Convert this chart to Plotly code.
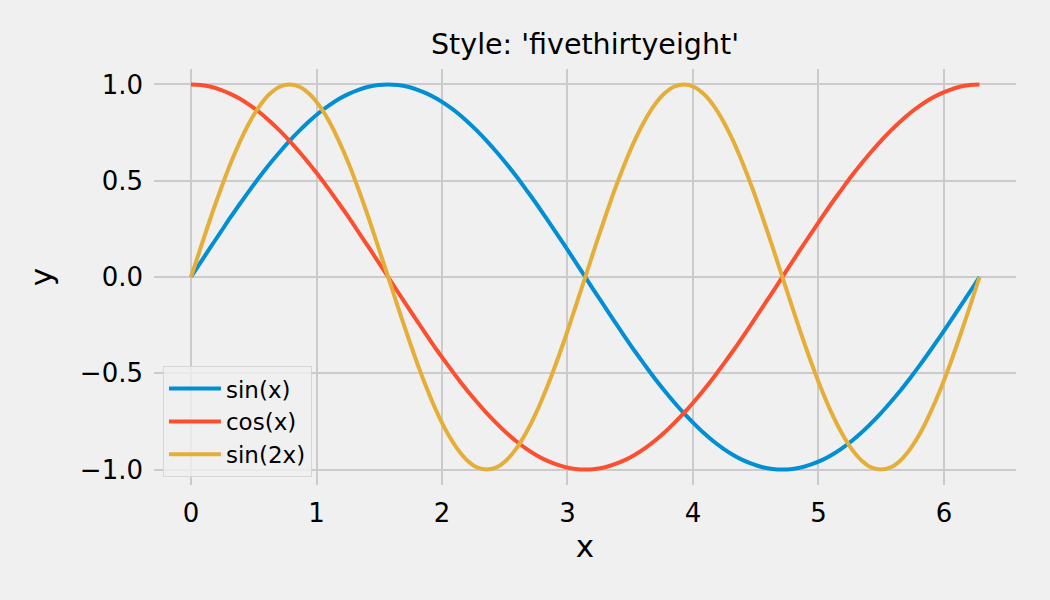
import plotly.graph_objects as go

x = [0, 0.079, 0.157, 0.236, 0.314, 0.393, 0.471, 0.550, 0.628, 0.707,
     0.785, 0.864, 0.942, 1.021, 1.100, 1.178, 1.257, 1.335, 1.414, 1.492,
     1.571, 1.649, 1.728, 1.806, 1.885, 1.963, 2.042, 2.121, 2.199, 2.278,
     2.356, 2.435, 2.513, 2.592, 2.670, 2.749, 2.827, 2.906, 2.985, 3.063,
     3.142, 3.220, 3.299, 3.377, 3.456, 3.534, 3.613, 3.691, 3.770, 3.848,
     3.927, 4.006, 4.084, 4.163, 4.241, 4.320, 4.398, 4.477, 4.555, 4.634,
     4.712, 4.791, 4.869, 4.948, 5.027, 5.105, 5.184, 5.262, 5.341, 5.419,
     5.498, 5.576, 5.655, 5.733, 5.812, 5.890, 5.969, 6.048, 6.126, 6.205,
     6.283]

sin_x = [0, 0.079, 0.156, 0.233, 0.309, 0.383, 0.454, 0.523, 0.588, 0.649,
         0.707, 0.760, 0.809, 0.853, 0.891, 0.924, 0.951, 0.972, 0.988, 0.997,
         1.0, 0.997, 0.988, 0.972, 0.951, 0.924, 0.891, 0.853, 0.809, 0.760,
         0.707, 0.649, 0.588, 0.523, 0.454, 0.383, 0.309, 0.233, 0.156, 0.079,
         0, -0.079, -0.156, -0.233, -0.309, -0.383, -0.454, -0.523, -0.588, -0.649,
         -0.707, -0.760, -0.809, -0.853, -0.891, -0.924, -0.951, -0.972, -0.988, -0.997,
         -1.0, -0.997, -0.988, -0.972, -0.951, -0.924, -0.891, -0.853, -0.809, -0.760,
         -0.707, -0.649, -0.588, -0.523, -0.454, -0.383, -0.309, -0.233, -0.156, -0.079,
         0]

cos_x = [1.0, 0.997, 0.988, 0.972, 0.951, 0.924, 0.891, 0.853, 0.809, 0.760,
         0.707, 0.649, 0.588, 0.523, 0.454, 0.383, 0.309, 0.233, 0.156, 0.079,
         0, -0.079, -0.156, -0.233, -0.309, -0.383, -0.454, -0.523, -0.588, -0.649,
         -0.707, -0.760, -0.809, -0.853, -0.891, -0.924, -0.951, -0.972, -0.988, -0.997,
         -1.0, -0.997, -0.988, -0.972, -0.951, -0.924, -0.891, -0.853, -0.809, -0.760,
         -0.707, -0.649, -0.588, -0.523, -0.454, -0.383, -0.309, -0.233, -0.156, -0.079,
         0, 0.079, 0.156, 0.233, 0.309, 0.383, 0.454, 0.523, 0.588, 0.649,
         0.707, 0.760, 0.809, 0.853, 0.891, 0.924, 0.951, 0.972, 0.988, 0.997,
         1.0]

sin_2x = [0, 0.156, 0.309, 0.454, 0.588, 0.707, 0.809, 0.891, 0.951, 0.988,
          1.0, 0.988, 0.951, 0.891, 0.809, 0.707, 0.588, 0.454, 0.309, 0.156,
          0, -0.156, -0.309, -0.454, -0.588, -0.707, -0.809, -0.891, -0.951, -0.988,
          -1.0, -0.988, -0.951, -0.891, -0.809, -0.707, -0.588, -0.454, -0.309, -0.156,
          0, 0.156, 0.309, 0.454, 0.588, 0.707, 0.809, 0.891, 0.951, 0.988,
          1.0, 0.988, 0.951, 0.891, 0.809, 0.707, 0.588, 0.454, 0.309, 0.156,
          0, -0.156, -0.309, -0.454, -0.588, -0.707, -0.809, -0.891, -0.951, -0.988,
          -1.0, -0.988, -0.951, -0.891, -0.809, -0.707, -0.588, -0.454, -0.309, -0.156,
          0]

series = [("sin(x)", sin_x, "#008fd5"),
          ("cos(x)", cos_x, "#fc4f30"),
          ("sin(2x)", sin_2x, "#e5ae38")]

font = "DejaVu Sans"
bg = "#f0f0f0"
grid = "#cbcbcb"

fig = go.Figure()
for name, ys, color in series:
    fig.add_trace(go.Scatter(x=x, y=ys, mode="lines", name=name,
                             line=dict(color=color, width=4, shape="spline")))

fig.update_layout(
    width=1050, height=600,
    paper_bgcolor=bg, plot_bgcolor=bg,
    font=dict(family=font, color="black", size=26),
    margin=dict(l=154, r=34, t=69, b=115),
    title=dict(text="Style: 'fivethirtyeight'", x=0.5, xref="paper", xanchor="center",
               y=1 - 44 / 600, yanchor="middle", font=dict(size=28.5)),
    legend=dict(x=0.0104, y=0.019, xanchor="left", yanchor="bottom",
                bgcolor="rgba(240,240,240,0.8)", bordercolor="#d6d6d6", borderwidth=1,
                font=dict(size=23), itemwidth=52, tracegroupgap=0),
    showlegend=True,
)
fig.update_xaxes(range=[-0.295, 6.574], dtick=1, tick0=0, showgrid=True, gridcolor=grid,
                 gridwidth=2, zeroline=False, showline=False, ticks="",
                 ticklabelstandoff=10,
                 title=dict(text="x", font=dict(size=31), standoff=8))
fig.update_yaxes(range=[-1.08, 1.08], dtick=0.5, tick0=0, tickformat=".1f", showgrid=True,
                 gridcolor=grid, gridwidth=2, zeroline=False, showline=False, ticks="",
                 ticklabelstandoff=10,
                 title=dict(text="y", font=dict(size=31), standoff=18))

fig.write_html("out.html", config={"displayModeBar": False},
               post_script="document.body.style.margin='0';")
